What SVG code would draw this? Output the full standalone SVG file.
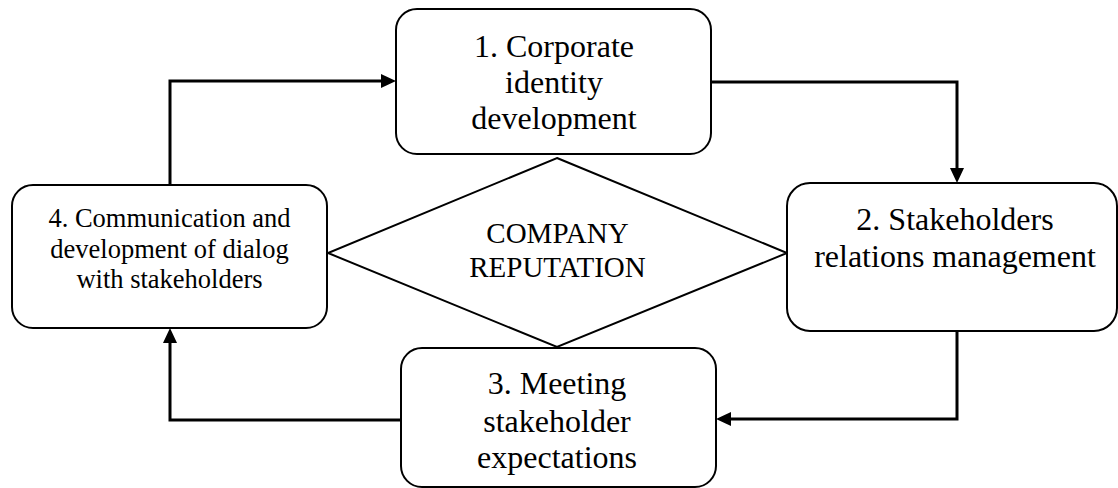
<svg xmlns="http://www.w3.org/2000/svg" width="1118" height="488" viewBox="0 0 1118 488">
  <style>
    .box { fill: #ffffff; stroke: #000000; stroke-width: 2; }
    .diamond { fill: #ffffff; stroke: #000000; stroke-width: 2; }
    .label { font-family: "Liberation Serif", "Times New Roman", serif; fill: #000000; text-anchor: middle; }
    .big { font-size: 32px; }
    .mid { font-size: 29px; }
    .small { font-size: 26.5px; }
    .link { fill: none; stroke: #000000; stroke-width: 3; }
  </style>
  <defs>
    <marker id="arrow" markerUnits="userSpaceOnUse" markerWidth="16" markerHeight="14" refX="3" refY="7" orient="auto">
      <path d="M0,0 L15,7 L0,14 z" fill="#000000"/>
    </marker>
  </defs>
  <rect width="1118" height="488" fill="#ffffff"/>

  <!-- centre: company reputation -->
  <g id="reputation">
    <polygon class="diamond" points="557,158 787,253 557,347 328,253"/>
    <text class="label mid" x="557.5" y="243">COMPANY</text>
    <text class="label mid" x="557.5" y="277">REPUTATION</text>
  </g>

  <!-- cycle connectors -->
  <g id="connectors">
    <path class="link" d="M170,185 V81 H384" marker-end="url(#arrow)"/>
    <path class="link" d="M711,82 H957 V171" marker-end="url(#arrow)"/>
    <path class="link" d="M957,331 V419 H728" marker-end="url(#arrow)"/>
    <path class="link" d="M401,420 H170 V340" marker-end="url(#arrow)"/>
  </g>

  <g id="step1">
    <rect class="box" x="396" y="9" width="315" height="145" rx="21" ry="21"/>
    <text class="label big" x="554" y="57">1. Corporate</text>
    <text class="label big" x="554" y="93">identity</text>
    <text class="label big" x="554" y="129">development</text>
  </g>

  <g id="step2">
    <rect class="box" x="787" y="183" width="330" height="148" rx="23" ry="23"/>
    <text class="label big" x="955" y="230">2. Stakeholders</text>
    <text class="label big" x="955" y="267">relations management</text>
  </g>

  <g id="step3">
    <rect class="box" x="401" y="348" width="315" height="139" rx="21" ry="21"/>
    <text class="label big" x="557" y="394">3. Meeting</text>
    <text class="label big" x="557" y="432">stakeholder</text>
    <text class="label big" x="557" y="468">expectations</text>
  </g>

  <g id="step4">
    <rect class="box" x="12" y="185" width="315" height="143" rx="21" ry="21"/>
    <text class="label small" x="169.5" y="227">4. Communication and</text>
    <text class="label small" x="169.5" y="258">development of dialog</text>
    <text class="label small" x="169.5" y="288">with stakeholders</text>
  </g>
</svg>
